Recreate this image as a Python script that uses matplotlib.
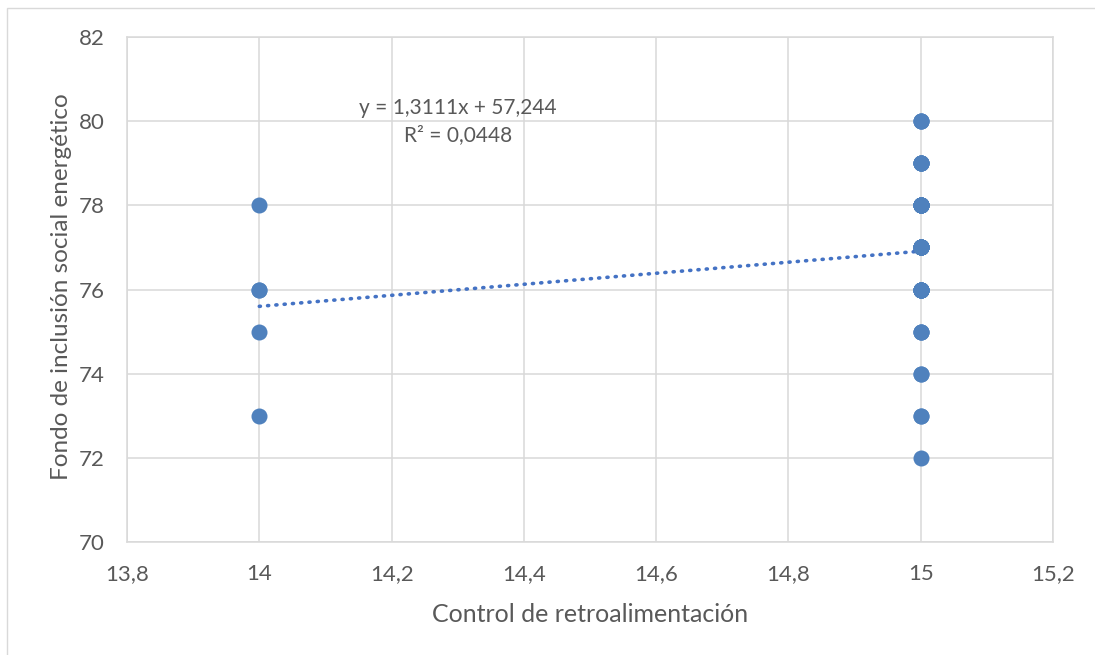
import numpy as np
import matplotlib.pyplot as plt
from matplotlib.patches import Rectangle

# Control de retroalimentación (x) and Fondo de inclusión social energético (y)
control = [14, 14, 14, 14, 14,
           15, 15, 15, 15, 15, 15, 15, 15, 15, 15,
           15, 15, 15, 15, 15, 15, 15, 15, 15, 15,
           15, 15, 15, 15, 15, 15, 15, 15, 15, 15,
           15, 15, 15, 15, 15, 15, 15, 15, 15, 15,
           15, 15, 15, 15, 15]
fondo = [78, 76, 76, 75, 73,
         72, 73, 73, 74, 74, 75, 75, 75, 76, 76,
         76, 76, 76, 76, 76, 76, 77, 77, 77, 77,
         77, 77, 77, 77, 77, 77, 77, 78, 78, 78,
         78, 78, 78, 78, 78, 78, 78, 79, 79, 79,
         79, 79, 80, 80, 80]

x_ticks = [13.8, 14.0, 14.2, 14.4, 14.6, 14.8, 15.0, 15.2]
x_tick_labels = ["13,8", "14", "14,2", "14,4", "14,6", "14,8", "15", "15,2"]
y_ticks = [70, 72, 74, 76, 78, 80, 82]

x = np.array(control, dtype=float)
y = np.array(fondo, dtype=float)

# linear trend like Excel
slope, intercept = np.polyfit(x, y, 1)
pred = slope * x + intercept
r2 = 1 - np.sum((y - pred) ** 2) / np.sum((y - y.mean()) ** 2)

plt.rcParams['font.family'] = ['Lato', 'DejaVu Sans']
text_col = '#595959'
grid_col = '#d9d9d9'
blue = '#4f81bd'

fig = plt.figure(figsize=(10.95, 6.55), dpi=100)
ax = fig.add_axes([0.116, 0.1725, 0.8457, 0.771])

# outer chart border (right and bottom edges fall outside the image)
fig.patches.append(Rectangle((7 / 1095, -0.1), 1.2, 1 - 8 / 655 + 0.1,
                             transform=fig.transFigure, fill=False,
                             edgecolor=grid_col, linewidth=1.0))

ax.scatter(x, y, s=133, color=blue, zorder=3, linewidths=0)

xs = np.array([x.min(), x.max()])
ax.plot(xs, slope * xs + intercept, color='#4472c4', linewidth=2.6,
        linestyle=(0, (0.3, 2.0)), dash_capstyle='round', zorder=2)

eq = f"y = {slope:.4f}x + {intercept:.3f}".replace('.', ',')
rt = f"R² = {r2:.4f}".replace('.', ',')
ax.text(14.30, 80.0, eq + "\n" + rt, ha='center', va='center',
        fontsize=15, color=text_col, linespacing=1.45)

ax.set_xlim(13.8, 15.2)
ax.set_ylim(70, 82)
ax.set_xticks(x_ticks)
ax.set_xticklabels(x_tick_labels)
ax.set_yticks(y_ticks)
ax.tick_params(length=0, labelsize=16, colors=text_col, pad=16)
ax.grid(True, color=grid_col, linewidth=1.1)
ax.set_axisbelow(True)
for s in ax.spines.values():
    s.set_color(grid_col)
    s.set_linewidth(1.1)

ax.set_xlabel("Control de retroalimentación", fontsize=18, color=text_col)
ax.set_ylabel("Fondo de inclusión social energético", fontsize=17.5, color=text_col)
ax.xaxis.set_label_coords(0.5, -0.121)
ax.yaxis.set_label_coords(-0.0594, 0.505)

fig.savefig("out.png", dpi=100)
